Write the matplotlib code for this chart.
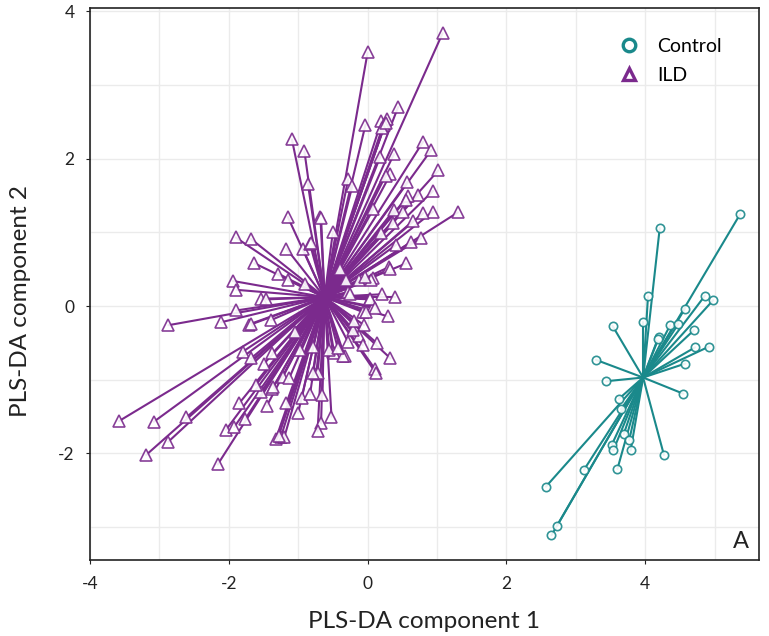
import matplotlib
matplotlib.use("Agg")
import matplotlib.pyplot as plt
from matplotlib.lines import Line2D
from matplotlib.ticker import MultipleLocator

plt.rcParams['font.family'] = ['Lato', 'DejaVu Sans']
plt.rcParams['axes.unicode_minus'] = False

# PLS-DA scores, Control group
ctrl_x = [5.37, 4.21, 4.04, 4.86, 4.98, 4.57, 3.97, 3.53, 4.36, 4.48, 4.70, 4.20,
          4.18, 4.72, 4.92, 4.58, 3.29, 3.44, 4.55, 3.62, 3.65, 3.69, 3.52, 3.54,
          3.77, 3.79, 4.27, 3.60, 3.12, 2.57, 2.73, 2.65]
ctrl_y = [1.25, 1.06, 0.13, 0.14, 0.08, -0.04, -0.22, -0.27, -0.26, -0.24, -0.33, -0.42,
          -0.45, -0.56, -0.55, -0.78, -0.73, -1.02, -1.19, -1.26, -1.40, -1.74, -1.88, -1.96,
          -1.82, -1.96, -2.02, -2.21, -2.22, -2.45, -2.98, -3.11]
ctrl_center = (3.97, -0.97)

# PLS-DA scores, ILD group
ild_x = [1.08, 0.00, 0.44, -0.03, 0.20, 0.28, 0.24, 0.21, 0.26, -1.09, -0.91, 0.80,
         0.92, 0.38, 0.18, 1.02, 0.33, 0.26, 0.57, -0.28, -0.22, -0.86, 0.94, 0.73,
         0.58, 0.55, 1.30, 0.94, 0.80, -0.68, 0.38, 0.51, -1.15, -1.90, -1.68, -1.17,
         -0.93, -0.67, -1.63, -0.83, -0.50, 0.08, 0.65, 0.77, 0.63, 0.56, 0.31, 0.37,
         0.20, 0.41, -0.81,
         -1.29, -1.15, -1.94, -1.89, -1.53, -1.46, -1.89, -2.11, -2.87, -1.71, -1.68,
         -1.39, -1.80, -1.68, -1.49, -1.37, -1.22, -1.13, -1.37, -1.53, -1.61, -1.85,
         -3.58, -3.08, -2.61, -1.76, -2.04, -1.92, -2.87, -3.19, -2.16, -1.32, -1.25,
         -1.20, -1.28, -1.17, -1.36, -0.98, -1.45, -1.00, -0.95,
         0.32, 0.21, 0.39, 0.29, 0.33, 0.11, 0.12, 0.13, -0.33, -0.52, -0.67, -0.72,
         -0.65, -0.83, -0.74, -0.28, -0.50, 0.08, -0.12, 0.03, -0.07, 0.08, -0.05,
         -0.12, -0.07, -0.48, -0.79, 0.05, -0.28, 0.03, 0.10, -0.02, -0.36, -0.72,
         -0.79, -0.55, -0.43, -0.21, -0.26, -0.31, -0.04, -0.90, -0.40, -1.05, -0.20]
ild_y = [3.70, 3.44, 2.70, 2.46, 2.51, 2.54, 2.45, 2.41, 2.49, 2.26, 2.10, 2.23,
         2.12, 2.06, 2.02, 1.84, 1.79, 1.77, 1.68, 1.72, 1.63, 1.66, 1.56, 1.51,
         1.49, 1.44, 1.27, 1.28, 1.26, 1.21, 1.30, 1.28, 1.21, 0.93, 0.91, 0.78,
         0.77, 1.20, 0.58, 0.84, 1.01, 1.31, 1.15, 0.92, 0.87, 0.58, 0.53, 1.12,
         0.99, 0.83, 0.85,
         0.44, 0.35, 0.34, 0.22, 0.10, 0.09, -0.06, -0.22, -0.26, -0.26, -0.24,
         -0.19, -0.62, -0.71, -0.78, -0.64, -0.96, -0.98, -1.12, -1.16, -1.07, -1.32,
         -1.56, -1.57, -1.51, -1.53, -1.68, -1.64, -1.84, -2.02, -2.15, -1.80, -1.78,
         -1.78, -1.76, -1.32, -1.10, -0.60, -1.35, -1.45, -1.25,
         0.50, 0.16, 0.12, -0.14, -0.71, -0.86, -0.91, -0.50, -0.68, -1.50, -1.59, -1.70,
         -1.21, -1.20, -0.92, -0.49, -0.62, 0.38, 0.35, 0.10, -0.08, -0.01, -0.26,
         -0.41, -0.53, -0.64, -0.55, 0.36, 0.19, 0.09, -0.03, -0.08, -0.68, -0.91,
         -0.91, -0.60, -0.57, -0.33, 0.17, 0.35, 0.40, 0.30, 0.50, -0.35, -0.20]
ild_center = (-0.62, 0.12)

groups = ["Control", "ILD"]
colors = {"Control": "#1a898b", "ILD": "#7b2a8d"}
markers = {"Control": "o", "ILD": "^"}

fig = plt.figure(figsize=(7.69, 6.36), dpi=100)
ax = fig.add_axes([0.117, 0.119, 0.870, 0.868])

def draw_group(xs, ys, center, name, ms):
    col = colors[name]
    for x, y in zip(xs, ys):
        ax.plot([center[0], x], [center[1], y], color=col, lw=1.5,
                solid_capstyle='round', zorder=2)
    ax.plot(xs, ys, linestyle='none', marker=markers[name], ms=ms,
            mfc='white', mec=col, mew=1.2, alpha=0.9, zorder=3)

draw_group(ild_x, ild_y, ild_center, "ILD", 8)
draw_group(ctrl_x, ctrl_y, ctrl_center, "Control", 6)

ax.set_xlim(-4.0, 5.64)
ax.set_ylim(-3.45, 4.04)
ax.xaxis.set_major_locator(MultipleLocator(2))
ax.xaxis.set_minor_locator(MultipleLocator(1))
ax.yaxis.set_major_locator(MultipleLocator(2))
ax.yaxis.set_minor_locator(MultipleLocator(1))
ax.grid(True, which='both', color='#ebebeb', lw=1.0, zorder=0)
ax.set_axisbelow(True)
ax.tick_params(which='minor', length=0)
ax.tick_params(which='major', length=3, width=0.8, labelsize=12.5,
               colors='#222222')
ax.tick_params(axis='x', pad=8)
ax.tick_params(axis='y', pad=8)
for s in ax.spines.values():
    s.set_color('#222222')
    s.set_linewidth(1.2)

ax.set_xlabel("PLS-DA component 1", fontsize=17.5, labelpad=14, color='#222222')
ax.set_ylabel("PLS-DA component 2", fontsize=17.5, labelpad=12, color='#222222')
ax.yaxis.set_label_coords(-0.088, 0.47)

handles = [Line2D([], [], linestyle='none', marker=markers[g], ms=9,
                  mfc='white', mec=colors[g], mew=2.4) for g in groups]
ax.legend(handles, groups, loc='upper left', bbox_to_anchor=(0.75, 0.978),
          frameon=False, fontsize=14, handletextpad=0.45, labelspacing=0.6)

ax.text(0.985, 0.015, "A", transform=ax.transAxes, ha='right', va='bottom',
        fontsize=17, color='#222222')

fig.savefig("out.png", dpi=100)
